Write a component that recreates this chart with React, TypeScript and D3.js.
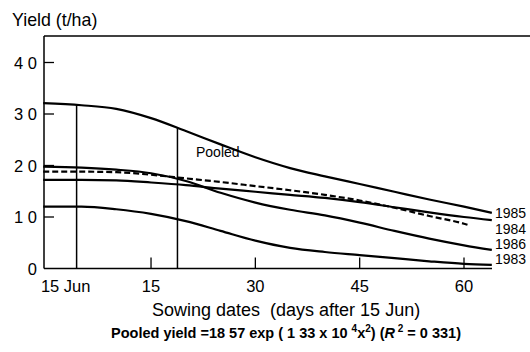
import React, { useEffect, useRef } from 'react';
import * as d3 from 'd3';

const days = [-0.5, 5, 10, 15, 20, 25, 30, 35, 40, 45, 50, 55, 60, 64];
const pooledDays = [-0.5, 5, 10, 15, 20, 25, 30, 35, 40, 45, 50, 55, 60, 60.5];

// Yield (t/ha) per season
const y1985 = [3.21, 3.17, 3.1, 2.92, 2.67, 2.41, 2.16, 1.95, 1.79, 1.64, 1.49, 1.34, 1.2, 1.08];
const y1984 = [1.72, 1.72, 1.71, 1.67, 1.62, 1.55, 1.49, 1.43, 1.37, 1.29, 1.19, 1.09, 1.0, 0.94];
const y1986 = [1.98, 1.96, 1.92, 1.85, 1.7, 1.47, 1.28, 1.14, 1.03, 0.89, 0.73, 0.58, 0.45, 0.36];
const y1983 = [1.2, 1.2, 1.15, 1.06, 0.92, 0.73, 0.54, 0.4, 0.32, 0.26, 0.2, 0.14, 0.09, 0.07];
const pooled = [1.88, 1.88, 1.87, 1.82, 1.75, 1.68, 1.6, 1.52, 1.43, 1.32, 1.18, 1.02, 0.87, 0.85];

const seriesNames = ['1985', '1984', '1986', '1983'];
const seriesValues = [y1985, y1984, y1986, y1983];
const labelValues = [1.08, 0.76, 0.47, 0.18]; // where the year labels sit

// vertical marker lines (days) drawn from the 1985 curve down to the axis
const markerDays = [4.3, 18.8];

const xTicks = [0, 15, 30, 45, 60];
const xTickLabels = ['15 Jun', '15', '30', '45', '60'];
const yTicks = [0, 1, 2, 3, 4];
const yTickLabels = ['0', '1 0', '2 0', '3 0', '4 0'];

export default function App() {
  const ref = useRef<SVGSVGElement | null>(null);

  useEffect(() => {
    if (!ref.current) return;
    const svg = d3.select(ref.current);
    svg.selectAll('*').remove();

    const font = 'Liberation Sans, Arial, sans-serif';
    const x = d3.scaleLinear().domain([0, 60]).range([46.7, 464]);
    const y = d3.scaleLinear().domain([0, 4]).range([268.5, 62.5]);
    const left = 44;
    const top = 36;
    const right = 492;

    // frame: top line, left axis, bottom axis
    svg.append('line')
      .attr('x1', left).attr('x2', 530).attr('y1', top).attr('y2', top)
      .attr('stroke', '#000').attr('stroke-width', 1.3);
    svg.append('line')
      .attr('x1', left).attr('x2', left).attr('y1', top).attr('y2', y(0))
      .attr('stroke', '#000').attr('stroke-width', 1.5);
    svg.append('line')
      .attr('x1', left).attr('x2', right).attr('y1', y(0)).attr('y2', y(0))
      .attr('stroke', '#000').attr('stroke-width', 1.5);

    // y ticks (inward)
    yTicks.forEach((t, i) => {
      if (t > 0) {
        svg.append('line')
          .attr('x1', left).attr('x2', left + 10)
          .attr('y1', y(t)).attr('y2', y(t))
          .attr('stroke', '#000').attr('stroke-width', 1.3);
      }
      svg.append('text')
        .attr('x', 37).attr('y', y(t) + 6)
        .attr('text-anchor', 'end')
        .style('font-family', font).style('font-size', '16.5px')
        .text(yTickLabels[i]);
    });

    // x ticks (inward)
    xTicks.forEach((t, i) => {
      if (t > 0) {
        svg.append('line')
          .attr('x1', x(t)).attr('x2', x(t))
          .attr('y1', y(0)).attr('y2', y(0) - 11)
          .attr('stroke', '#000').attr('stroke-width', 1.3);
      }
      svg.append('text')
        .attr('x', t === 0 ? x(t) + 19 : x(t)).attr('y', 292)
        .attr('text-anchor', 'middle')
        .style('font-family', font).style('font-size', '16.5px')
        .text(xTickLabels[i]);
    });

    const line = d3.line<number>()
      .x((_, i) => x(days[i]))
      .y(d => y(d))
      .curve(d3.curveMonotoneX);

    seriesValues.forEach(vals => {
      svg.append('path')
        .attr('d', line(vals))
        .attr('fill', 'none')
        .attr('stroke', '#000')
        .attr('stroke-width', 2.2);
    });

    const pooledLine = d3.line<number>()
      .x((_, i) => x(pooledDays[i]))
      .y(d => y(d))
      .curve(d3.curveMonotoneX);
    svg.append('path')
      .attr('d', pooledLine(pooled))
      .attr('fill', 'none')
      .attr('stroke', '#000')
      .attr('stroke-width', 2.2)
      .attr('stroke-dasharray', '6,3');

    // vertical markers
    const interp = d3.scaleLinear().domain(days).range(y1985);
    markerDays.forEach(d => {
      svg.append('line')
        .attr('x1', x(d)).attr('x2', x(d))
        .attr('y1', y(interp(d))).attr('y2', y(0))
        .attr('stroke', '#000').attr('stroke-width', 1.5);
    });

    // year labels
    seriesNames.forEach((n, i) => {
      svg.append('text')
        .attr('x', 495).attr('y', y(labelValues[i]) + 5)
        .style('font-family', font).style('font-size', '14px')
        .text(n);
    });

    svg.append('text')
      .attr('x', 196).attr('y', 157)
      .style('font-family', font).style('font-size', '14px')
      .text('Pooled');

    // axis titles
    svg.append('text')
      .attr('x', 12).attr('y', 26)
      .style('font-family', font).style('font-size', '17.8px')
      .text('Yield (t/ha)');

    svg.append('text')
      .attr('x', 152).attr('y', 316)
      .style('font-family', font).style('font-size', '18px')
      .attr('xml:space', 'preserve')
      .text('Sowing dates  (days after 15 Jun)');

    const eq = svg.append('text')
      .attr('x', 286).attr('y', 338)
      .attr('text-anchor', 'middle')
      .style('font-family', font).style('font-size', '14.5px')
      .style('font-weight', 'bold');
    eq.append('tspan').text('Pooled yield =18 57 exp ( 1 33 x 10 ');
    eq.append('tspan').attr('dy', -6).style('font-size', '10px').text('4');
    eq.append('tspan').attr('dy', 6).text('x');
    eq.append('tspan').attr('dy', -6).style('font-size', '10px').text('2');
    eq.append('tspan').attr('dy', 6).text(') (');
    eq.append('tspan').style('font-style', 'italic').text('R');
    eq.append('tspan').attr('dy', -6).style('font-size', '10px').text(' 2');
    eq.append('tspan').attr('dy', 6).text(' = 0 331)');
  }, []);

  return (
    <svg
      ref={ref}
      width={530}
      height={352}
      style={{ position: 'absolute', left: 0, top: 0, background: '#fff' }}
    />
  );
}
